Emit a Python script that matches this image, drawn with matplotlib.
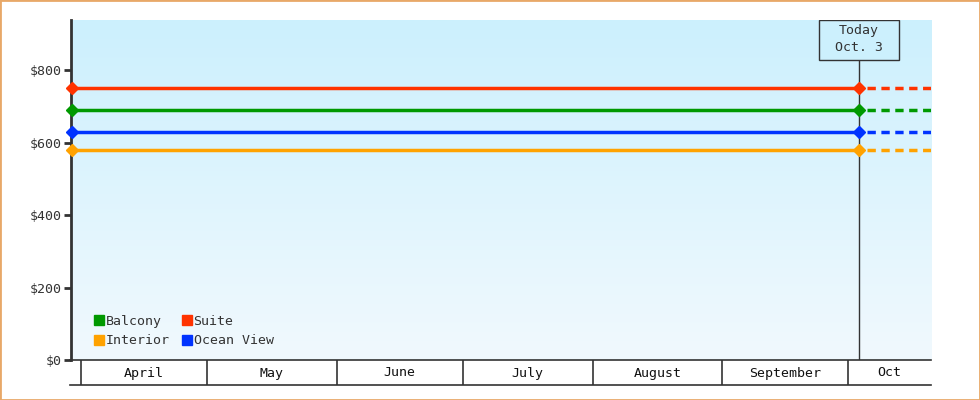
#cruise_fare_tracker.py
"""Flat fare lines per cabin type with a 'today' marker and a month band under the axis."""

import numpy as np
import pandas as pd
import matplotlib.pyplot as plt
import matplotlib.dates as dates
from matplotlib.lines import Line2D
from matplotlib.patches import Rectangle
from matplotlib.colors import LinearSegmentedColormap

#data
start_date = '2023-03-29 14:00'
today_date = '2023-10-03 12:00'
end_date = '2023-10-20 18:00'
today_label = 'Today\nOct. 3'

cabins = ['Balcony', 'Interior', 'Suite', 'Ocean View']
fares = [690, 580, 750, 630]
colors = ['#009900', '#ffa200', '#ff3300', '#0033ff']

months = ['April', 'May', 'June', 'July', 'August', 'September', 'Oct']
month_starts = ['2023-04-01', '2023-05-01', '2023-06-01', '2023-07-01',
                '2023-08-01', '2023-09-01', '2023-10-01']

yticks = [0, 200, 400, 600, 800]
ymax = 938

mono = 'DejaVu Sans Mono'
ink = '#333333'
fsize = 9.5

t0 = pd.Timestamp(start_date)
t1 = pd.Timestamp(today_date)
t2 = pd.Timestamp(end_date)

fig = plt.figure(figsize=(9.8, 4), dpi=100)
fig.patches.append(Rectangle((0, 0), 1, 1, transform=fig.transFigure,
                             fill=False, edgecolor='#e8a868', linewidth=2))

ax = fig.add_axes([71/980, 40/400, 860/980, 340/400])
ax.set_xlim(t0, t2)
ax.set_ylim(0, ymax)

#gradient background
grad = np.linspace(0, 1, 256).reshape(-1, 1)
cmap = LinearSegmentedColormap.from_list('bg', ['#f1f9fe', '#ccf0fd'])
ax.imshow(grad, aspect='auto', cmap=cmap, origin='lower',
          extent=[0, 1, 0, 1], transform=ax.transAxes, zorder=0)

#fare lines: solid up to today, dashed afterwards
for name, fare, c in zip(cabins, fares, colors):
    ax.plot([t0, t1], [fare, fare], color=c, lw=2.5, marker='D', ms=6,
            solid_capstyle='butt', zorder=3, clip_on=False)
    ax.plot([t1 + pd.Timedelta(days=2), t2], [fare, fare], color=c, lw=2.5,
            linestyle=(0, (2.4, 1.6)), zorder=3)

#today marker + box
box_days = 19
trans = ax.get_xaxis_transform()
box_bottom = 300/340
ax.plot([t1, t1], [0, box_bottom], transform=trans, color=ink, lw=1, zorder=2)
ax.add_patch(Rectangle((dates.date2num(t1 - pd.Timedelta(days=box_days/2)), box_bottom),
                       box_days, 1 - box_bottom, transform=trans,
                       facecolor='#ccf0fd', edgecolor=ink, lw=1, zorder=4))
ax.text(t1, (1 + box_bottom)/2 + 0.003, today_label, transform=trans, ha='center',
        va='center', family=mono, fontsize=fsize, color=ink,
        linespacing=1.35, zorder=5)

#axes styling
for s in ['top', 'right', 'bottom']:
    ax.spines[s].set_visible(False)
ax.spines['left'].set_color(ink)
ax.spines['left'].set_linewidth(2)
ax.set_yticks(yticks)
ax.set_yticklabels(['${}'.format(v) for v in yticks], family=mono,
                   fontsize=fsize, color=ink)
ax.tick_params(axis='y', length=5, width=2, color=ink, pad=2)
ax.set_xticks([])

#legend
handles = [Line2D([], [], color=c, marker='s', ms=7, linestyle='none')
           for c in colors]
ax.legend(handles, cabins, ncol=2, loc='lower left',
          bbox_to_anchor=(0.019, 0.018), frameon=False, borderpad=0,
          handlelength=0.75, handletextpad=0.15, columnspacing=0.9,
          labelspacing=0.5, prop={'family': mono, 'size': fsize},
          labelcolor=ink)

#month band under the axis
band = fig.add_axes([70/980, 15/400, 861/980, 25/400], sharex=ax)
band.set_ylim(0, 1)
band.set_xlim(t0 - pd.Timedelta(hours=6), t2)
for s in ['left', 'right']:
    band.spines[s].set_visible(False)
for s in ['top', 'bottom']:
    band.spines[s].set_color(ink)
    band.spines[s].set_linewidth(1.2)
band.set_xticks([])
band.set_yticks([])
band.patch.set_alpha(0)

edges = [pd.Timestamp(m) for m in month_starts] + [t2]
for i, m in enumerate(months):
    band.axvline(edges[i], color=ink, lw=1.2)
    mid = edges[i] + (edges[i+1] - edges[i]) / 2
    band.text(mid, 0.48, m, ha='center', va='center', family=mono,
              fontsize=fsize, color='#111111')

plt.savefig('out.png', dpi=100)
